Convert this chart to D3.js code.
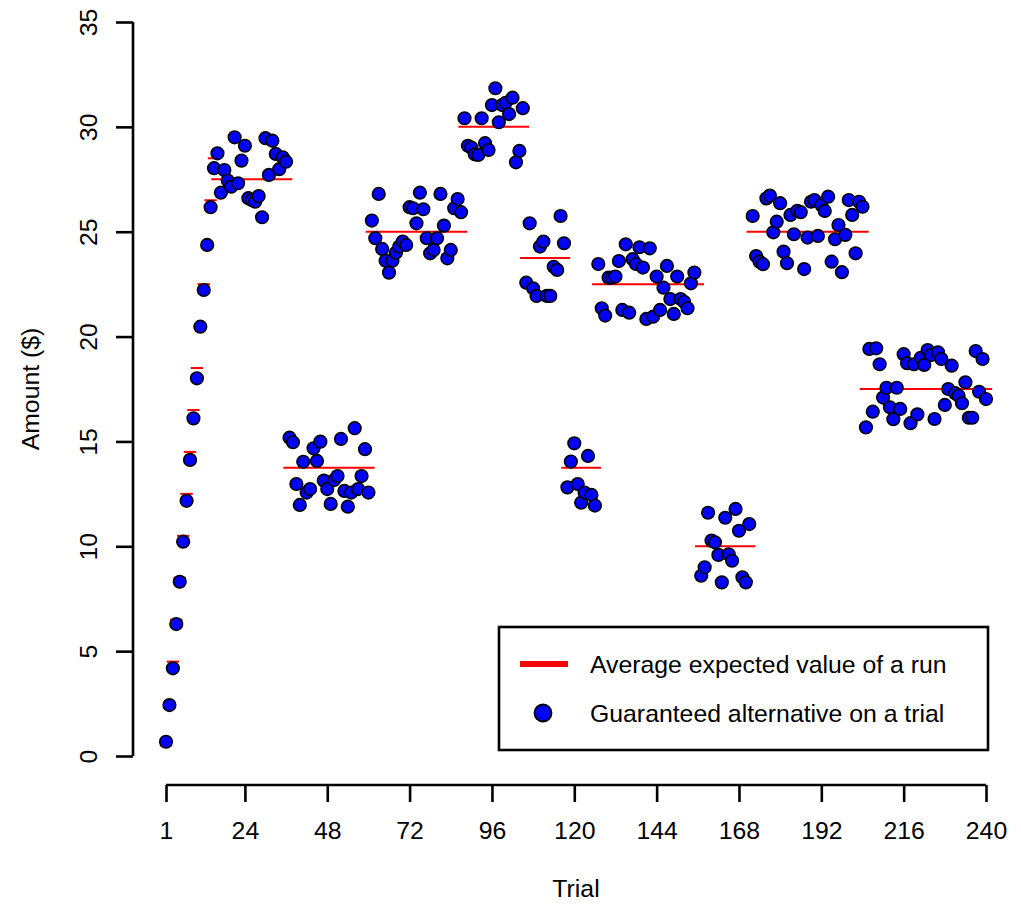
<!DOCTYPE html>
<html>
<head>
<meta charset="utf-8">
<script src="https://cdn.jsdelivr.net/npm/d3@7"></script>
<style>
  body { margin: 0; background: #fff; }
  text { font-family: "Liberation Sans", Arial, Helvetica, sans-serif; }
</style>
</head>
<body>
<div id="chart"></div>
<script>
//Tick labels
var trialTicks = [1, 24, 48, 72, 96, 120, 144, 168, 192, 216, 240];
var amountTicks = [0, 5, 10, 15, 20, 25, 30, 35];

//Runs: first and last trial, and average expected value
var runStart = [1, 2, 3, 4, 5, 6, 7, 8, 9, 10, 11, 12, 13, 14, 15, 16, 37, 61, 88, 106, 118, 127, 157, 172, 205];
var runEnd = [1, 2, 3, 4, 5, 6, 7, 8, 9, 10, 11, 12, 13, 14, 15, 36, 60, 87, 105, 117, 126, 156, 171, 204, 240];
var runValue = [0.5, 2.5, 4.5, 6.5, 8.5, 10.5, 12.5, 14.5, 16.5, 18.5, 20.5, 22.5, 24.5, 26.5, 28.5,
    27.5, 13.75, 25, 30, 23.75, 13.75, 22.5, 10, 25, 17.5];

//Guaranteed alternative, one value per trial (null = hidden behind another point)
var guaranteed = [
    0.68, 2.43, 4.18, 6.29, 8.31, 10.22, 12.17, 14.12, 16.10, 18.01, 20.47, 22.22, 24.37, 26.17, 28.03,
    28.74, 26.86, 27.94, 27.44, 27.15, 29.50, 27.31, 28.39, 29.10, 26.60, 26.51, 26.43, 26.70, 25.69, 29.46,
    27.71, 29.34, 28.71, 27.98, 28.55, 28.34,
    15.18, 14.96, 12.97, 11.97, 14.03, 12.56, 12.73, 14.67, 14.07, 14.99, 13.13, 12.73, 12.02, 13.16, 13.35,
    15.12, 12.64, 11.89, 12.56, 15.63, 12.73, 13.35, 14.63, 12.56,
    25.53, 24.69, 26.80, 24.18, 23.62, 23.05, 23.62, 24.00, 24.29, 24.53, 24.37, 26.17, 26.12, 25.40, 26.86,
    26.07, 24.69, 23.97, 24.13, 24.69, 26.80, 25.29, 23.73, 24.13, 26.12, 26.56, 25.93,
    30.41, 29.10, 29.01, 28.69, 28.66, 30.41, 29.22, 28.90, 31.04, 31.84, 30.22, 31.04, 31.15, 30.61, 31.39,
    28.31, 28.85, 30.89,
    22.57, 25.40, 22.30, 21.94, 24.29, 24.53, 21.94, 21.94, 23.33, 23.18, 25.75, 24.45,
    12.81, 14.04, 14.91, 12.97, 12.08, 12.56, 14.31, 12.45, 11.94,
    23.46, 21.35, 21.00, 22.81, 22.81, 22.86, 23.60, 21.27, 24.40, 21.14, 23.69, 23.46, 24.26, 23.29, 20.84,
    24.21, 20.95, 22.86, 21.27, 22.33, 23.37, 21.79, 21.08, 22.86, 21.79, 21.66, 21.35, 22.54, 23.05, null,
    8.60, 9.00, 11.60, 10.27, 10.19, 9.59, 8.28, 11.36, 9.62, 9.31, 11.78, 10.74, 8.52, 8.28, 11.06,
    25.75, 23.84, 23.57, 23.45, 26.59, 26.72, 24.97, 25.48, 26.36, 24.05, 23.50, 25.80, 24.88, 26.00, 25.93,
    23.22, 24.72, 26.43, 26.51, 24.80, 26.28, 25.99, 26.67, 23.57, 24.64, 25.32, 23.07, 24.85, 26.51, 25.80,
    23.97, 26.43, 26.19,
    15.67, 19.41, 16.42, 19.44, 18.68, 17.09, 17.56, 16.63, 16.06, 17.56, 16.55, 19.16, 18.73, 15.87, 18.68,
    16.29, 18.99, 18.65, 19.36, 19.12, 16.07, 19.25, 18.93, 16.74, 17.50, 18.61, 17.30, 17.18, 16.82, 17.82,
    16.13, 16.13, 19.31, 17.37, 18.93, 17.02
];

var legendLabels = ["Average expected value of a run", "Guaranteed alternative on a trial"];

//SVG dimensions
var svgWidth = 1021;
var svgHeight = 905;
var fontSize = 24.8;

var svg = d3.select("#chart")
    .append("svg")
    .attr("width", svgWidth)
    .attr("height", svgHeight);

//Scales
var xScale = d3.scaleLinear()
    .domain([1, 240])
    .range([166, 986]);

var yScale = d3.scaleLinear()
    .domain([0, 35])
    .range([756, 22]);

//Points built from the arrays
var points = guaranteed
    .map((v, i) => ({trial: i + 1, value: v}))
    .filter(d => d.value !== null);

var runs = runStart.map((s, i) => ({start: s, end: runEnd[i], value: runValue[i]}));

//Bottom axis
var bottomAxis = d3.axisBottom(xScale)
    .tickValues(trialTicks)
    .tickFormat(d3.format("d"))
    .tickSize(17)
    .tickPadding(19);

var xAxis = svg.append("g")
    .attr("transform", "translate(0, 785)")
    .call(bottomAxis);

//Left axis
var leftAxis = d3.axisLeft(yScale)
    .tickValues(amountTicks)
    .tickSize(17)
    .tickPadding(19);

var yAxis = svg.append("g")
    .attr("transform", "translate(133, 0)")
    .call(leftAxis);

//Style axes like base R
[xAxis, yAxis].forEach(function(g) {
    g.select(".domain")
        .attr("stroke", "black")
        .attr("stroke-width", 2.6);
    g.selectAll(".tick line")
        .attr("stroke", "black")
        .attr("stroke-width", 2.6);
    g.selectAll(".tick text")
        .attr("fill", "black")
        .style("font-size", fontSize + "px");
});

//R axis line only runs between first and last tick
xAxis.select(".domain").attr("d", `M${xScale(1)},0H${xScale(240)}`);
yAxis.select(".domain").attr("d", `M0,${yScale(0)}V${yScale(35)}`);

//Rotate y tick labels
yAxis.selectAll(".tick text")
    .attr("x", null)
    .attr("dy", null)
    .attr("text-anchor", "middle")
    .attr("transform", "translate(-36, 0) rotate(-90)");

//Red run lines
svg.append("g")
    .selectAll("line")
    .data(runs)
    .enter()
    .append("line")
    .attr("x1", d => xScale(d.start - 1.8))
    .attr("x2", d => xScale(d.end + 1.8))
    .attr("y1", d => yScale(d.value))
    .attr("y2", d => yScale(d.value))
    .attr("stroke", "#ff0000")
    .attr("stroke-width", 2);

//Blue points
svg.append("g")
    .selectAll("circle")
    .data(points)
    .enter()
    .append("circle")
    .attr("cx", d => xScale(d.trial))
    .attr("cy", d => yScale(d.value))
    .attr("r", 6.3)
    .attr("fill", "#0000ff")
    .attr("stroke", "black")
    .attr("stroke-width", 1.6);

//Axis titles
svg.append("text")
    .attr("transform", `translate(39, ${(yScale(0) + yScale(35)) / 2}) rotate(-90)`)
    .attr("text-anchor", "middle")
    .style("font-size", fontSize + "px")
    .text("Amount ($)");

svg.append("text")
    .attr("x", (xScale(1) + xScale(240)) / 2)
    .attr("y", 897)
    .attr("text-anchor", "middle")
    .style("font-size", fontSize + "px")
    .text("Trial");

//Legend
var legend = svg.append("g");

legend.append("rect")
    .attr("x", 499)
    .attr("y", 627)
    .attr("width", 489)
    .attr("height", 123)
    .attr("fill", "white")
    .attr("stroke", "black")
    .attr("stroke-width", 2.6);

legend.append("line")
    .attr("x1", 520)
    .attr("x2", 568)
    .attr("y1", 664)
    .attr("y2", 664)
    .attr("stroke", "#ff0000")
    .attr("stroke-width", 6);

legend.append("circle")
    .attr("cx", 543)
    .attr("cy", 713)
    .attr("r", 8.5)
    .attr("fill", "#0000ff")
    .attr("stroke", "black")
    .attr("stroke-width", 1.8);

legend.selectAll(".legendText")
    .data(legendLabels)
    .enter()
    .append("text")
    .attr("class", "legendText")
    .attr("x", 590)
    .attr("y", (d, i) => 664 + i * 49)
    .attr("dy", "0.35em")
    .style("font-size", fontSize + "px")
    .text(d => d);
</script>
</body>
</html>
